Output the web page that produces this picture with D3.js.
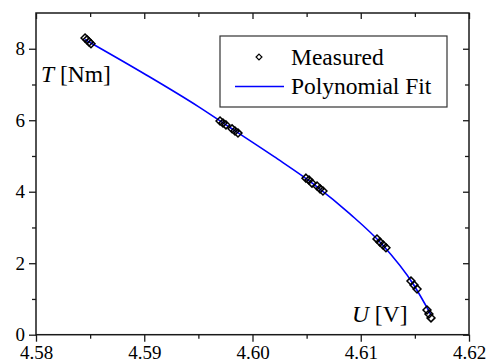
<!DOCTYPE html>
<html>
<head>
<meta charset="utf-8">
<script src="https://cdn.jsdelivr.net/npm/d3@7"></script>
<style>
  html, body { margin: 0; padding: 0; background: #fff; }
  svg { display: block; }
  text { font-family: "Liberation Serif", "Times New Roman", serif; fill: #000; }
</style>
</head>
<body>
<svg id="chart" width="490" height="359"></svg>
<script>
// Measured data (U in V, T in Nm)
const measuredU = [4.58453, 4.58471, 4.58490, 4.58508,
                   4.59700, 4.59727, 4.59755, 4.59811, 4.59838, 4.59866,
                   4.60494, 4.60522, 4.60550, 4.60596, 4.60624, 4.60651,
                   4.61150, 4.61178, 4.61206, 4.61233,
                   4.61464, 4.61492, 4.61520,
                   4.61612, 4.61630, 4.61649];
const measuredT = [8.30, 8.25, 8.19, 8.14,
                   5.98, 5.92, 5.87, 5.76, 5.70, 5.64,
                   4.38, 4.33, 4.24, 4.16, 4.08, 4.02,
                   2.68, 2.59, 2.51, 2.43,
                   1.50, 1.39, 1.28,
                   0.69, 0.58, 0.47];
// Polynomial fit curve
const fitU = [4.5845, 4.5900, 4.5950, 4.5978, 4.6020, 4.6057, 4.6090, 4.6119, 4.6149, 4.6165];
const fitT = [8.26, 7.30, 6.38, 5.82, 4.98, 4.20, 3.38, 2.55, 1.39, 0.55];
const xTicks = [4.58, 4.59, 4.60, 4.61, 4.62];
const xMinor = [4.585, 4.595, 4.605, 4.615];
const yTicks = [0, 2, 4, 6, 8];
const yMinor = [1, 3, 5, 7];

const svg = d3.select("#chart");
const L = 36, R = 469, T = 13, B = 334.7;
const x = d3.scaleLinear().domain([4.58, 4.62]).range([L, R]);
const y = d3.scaleLinear().domain([0, 9]).range([B, T]);

const axisColor = "#1a1a1a";
const fmtX = d3.format(".2f");
const serif = '"Liberation Serif", "Times New Roman", serif';

function styleAxis(g) {
  g.attr("font-family", serif).attr("font-size", 19);
  g.select(".domain").remove();
  g.selectAll(".tick line").attr("stroke", axisColor).attr("stroke-width", 1.3);
  g.selectAll(".tick text").attr("fill", "#000");
}

// Bottom axis
const gB = svg.append("g").attr("transform", `translate(0,${B})`)
  .call(d3.axisBottom(x).tickValues(xTicks).tickFormat(fmtX).tickSize(7).tickPadding(3.5)).call(styleAxis);
svg.append("g").attr("transform", `translate(0,${B})`)
  .call(d3.axisBottom(x).tickValues(xMinor).tickFormat("").tickSize(4)).call(styleAxis);
// Top axis (inward)
svg.append("g").attr("transform", `translate(0,${T})`)
  .call(d3.axisBottom(x).tickValues(xTicks).tickFormat("").tickSize(6)).call(styleAxis);
svg.append("g").attr("transform", `translate(0,${T})`)
  .call(d3.axisBottom(x).tickValues(xMinor).tickFormat("").tickSize(4)).call(styleAxis);
// Left axis
svg.append("g").attr("transform", `translate(${L},0)`)
  .call(d3.axisLeft(y).tickValues(yTicks).tickFormat(d3.format("d")).tickSize(7).tickPadding(4)).call(styleAxis);
svg.append("g").attr("transform", `translate(${L},0)`)
  .call(d3.axisLeft(y).tickValues(yMinor).tickFormat("").tickSize(4)).call(styleAxis);
// Right axis (inward)
svg.append("g").attr("transform", `translate(${R},0)`)
  .call(d3.axisLeft(y).tickValues(yTicks).tickFormat("").tickSize(6)).call(styleAxis);
svg.append("g").attr("transform", `translate(${R},0)`)
  .call(d3.axisLeft(y).tickValues(yMinor).tickFormat("").tickSize(4)).call(styleAxis);

// Frame
svg.append("rect").attr("x", L).attr("y", T).attr("width", R - L).attr("height", B - T)
  .attr("fill", "none").attr("stroke", axisColor).attr("stroke-width", 1.5);

// Fit line
const fitData = fitU.map((u, i) => [u, fitT[i]]);
svg.append("path").datum(fitData)
  .attr("fill", "none").attr("stroke", "#0000ff").attr("stroke-width", 1.6)
  .attr("d", d3.line().x(d => x(d[0])).y(d => y(d[1])).curve(d3.curveMonotoneX));

// Markers (open diamonds)
const sym = d3.symbol().type(d3.symbolDiamond2).size(40);
const meas = measuredU.map((u, i) => [u, measuredT[i]]);
svg.append("g").selectAll("path").data(meas).join("path")
  .attr("transform", d => `translate(${x(d[0])},${y(d[1])})`)
  .attr("d", sym).attr("fill", "none").attr("stroke", "#000").attr("stroke-width", 1.5);

// Axis titles
const tl = svg.append("text").attr("x", 41).attr("y", 82).attr("font-size", 23.5);
tl.append("tspan").attr("font-style", "italic").text("T");
tl.append("tspan").text(" [Nm]");
const ul = svg.append("text").attr("x", 352).attr("y", 322).attr("font-size", 23.5);
ul.append("tspan").attr("font-style", "italic").text("U");
ul.append("tspan").text(" [V]");

// Legend
const lg = svg.append("g");
lg.append("rect").attr("x", 220).attr("y", 36).attr("width", 227).attr("height", 71)
  .attr("fill", "#fff").attr("stroke", "#333").attr("stroke-width", 1.2);
lg.append("path").attr("transform", "translate(259,57)")
  .attr("d", d3.symbol().type(d3.symbolDiamond2).size(22)).attr("fill", "none").attr("stroke", "#000").attr("stroke-width", 1.2);
lg.append("text").attr("x", 291).attr("y", 64.5).attr("font-size", 23.5).text("Measured");
lg.append("line").attr("x1", 235).attr("x2", 284).attr("y1", 86.5).attr("y2", 86.5)
  .attr("stroke", "#0000ff").attr("stroke-width", 1.4);
lg.append("text").attr("x", 291).attr("y", 93.5).attr("font-size", 23.5).text("Polynomial Fit");
</script>
</body>
</html>
